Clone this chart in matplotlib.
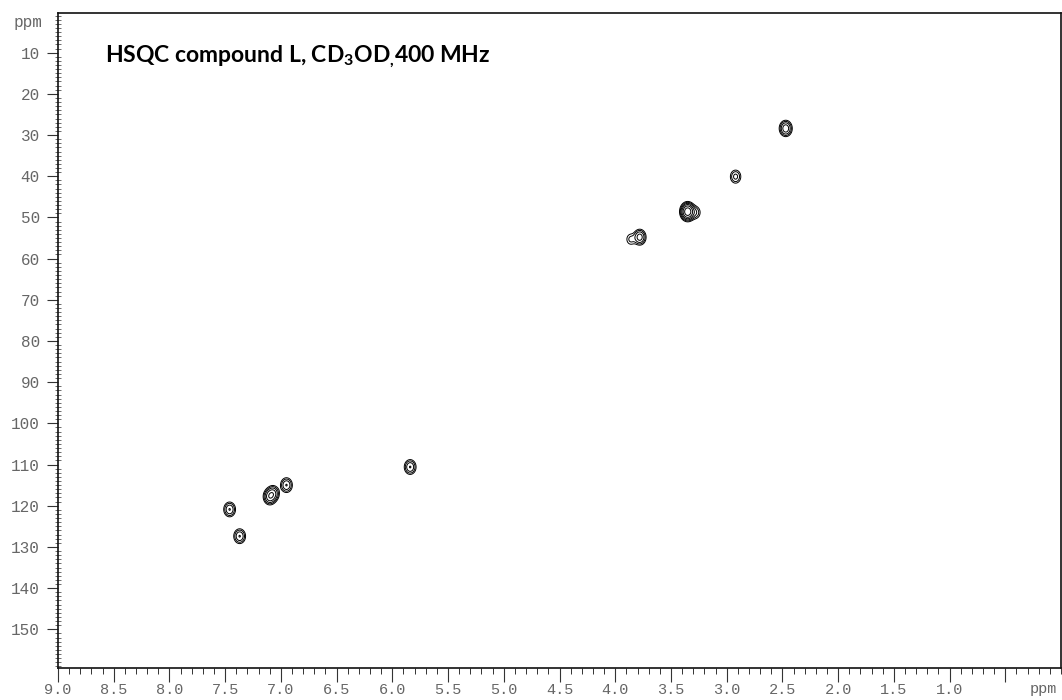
import numpy as np
import matplotlib
matplotlib.use("Agg")
import matplotlib.pyplot as plt
from matplotlib.ticker import MultipleLocator, FixedLocator

# Cross peaks: proton shift (ppm), carbon shift (ppm), relative intensity
peak_h = [2.47, 2.92, 3.35, 3.28, 3.78, 3.86, 5.84, 6.95, 7.10, 7.07, 7.46, 7.37]
peak_c = [28.4, 40.1, 48.6, 48.8, 54.8, 55.3, 110.6, 115.0, 117.8, 117.0, 120.9, 127.4]
peak_i = [9.0, 4.0, 30.0, 3.0, 8.0, 2.2, 6.0, 6.0, 9.0, 7.0, 6.0, 6.0]

y_ticks = [10, 20, 30, 40, 50, 60, 70, 80, 90, 100, 110, 120, 130, 140, 150]
x_ticks = [9.0, 8.5, 8.0, 7.5, 7.0, 6.5, 6.0, 5.5, 5.0, 4.5, 4.0, 3.5, 3.0, 2.5, 2.0, 1.5, 1.0, 0.5]
x_labels = ["9.0", "8.5", "8.0", "7.5", "7.0", "6.5", "6.0", "5.5", "5.0", "4.5",
            "4.0", "3.5", "3.0", "2.5", "2.0", "1.5", "1.0", ""]

plt.rcParams["mathtext.fontset"] = "custom"
plt.rcParams["mathtext.bf"] = "Lato:bold"
plt.rcParams["mathtext.rm"] = "Lato:bold"
plt.rcParams["mathtext.default"] = "bf"

W, H = 1062, 700
fig = plt.figure(figsize=(W / 100, H / 100), dpi=100)
left, right, top, bottom = 58, 1061, 12.7, 668
ax = fig.add_axes([left / W, (H - bottom) / H, (right - left) / W, (bottom - top) / H])

# Build the 2D spectrum on a grid
h = np.linspace(0.0, 9.0, 2000)
c = np.linspace(0.0, 160.0, 1800)
HH, CC = np.meshgrid(h, c)
Z = np.zeros_like(HH)
sx, sy = 0.028, 0.95
for ph, pc, pi in zip(peak_h, peak_c, peak_i):
    Z += pi * np.exp(-0.5 * (((HH - ph) / sx) ** 2 + ((CC - pc) / sy) ** 2))

levels = 1.0 * 1.8 ** np.arange(8)
ax.contour(HH, CC, Z, levels=levels, colors="black", linewidths=0.7)

ax.set_xlim(9.0, 0.0)
ax.set_ylim(159.4, 0.3)

mono = "Liberation Mono"
tick_color = "#666666"
ax.xaxis.set_major_locator(FixedLocator(x_ticks))
ax.set_xticklabels(x_labels)
ax.xaxis.set_minor_locator(MultipleLocator(0.1))
ax.yaxis.set_major_locator(FixedLocator(y_ticks))
ax.set_yticklabels([str(v) for v in y_ticks])
ax.yaxis.set_minor_locator(MultipleLocator(1))

ax.tick_params(axis="x", which="major", direction="out", length=10, width=0.8,
               color="#333333", pad=1, labelsize=11, labelcolor=tick_color)
ax.tick_params(axis="x", which="minor", direction="out", length=4, width=0.7, color="#333333")
ax.tick_params(axis="y", which="major", direction="out", length=8, width=0.8,
               color="#333333", pad=5, labelsize=11.5, labelcolor=tick_color)
ax.tick_params(axis="y", which="minor", direction="inout", length=4, width=0.6, color="#555555")
for lab in ax.get_xticklabels() + ax.get_yticklabels():
    lab.set_fontfamily(mono)

for s in ax.spines.values():
    s.set_linewidth(1.2)
    s.set_color("#111111")

# Axis unit labels in the corners
fig.text(28 / W, 1 - 23 / H, "ppm", fontfamily=mono, fontsize=11.5, color=tick_color,
         ha="center", va="center")
fig.text(1043 / W, 1 - 689 / H, "ppm", fontfamily=mono, fontsize=11, color=tick_color,
         ha="center", va="center")

fig.text(105 / W, 1 - 61.7 / H, r"HSQC compound L, CD$_3$OD$_{,}$400 MHz",
         fontfamily="Lato", fontweight="bold", fontsize=16.5, color="black",
         ha="left", va="baseline")

fig.savefig("out.png", dpi=100, facecolor="white")
